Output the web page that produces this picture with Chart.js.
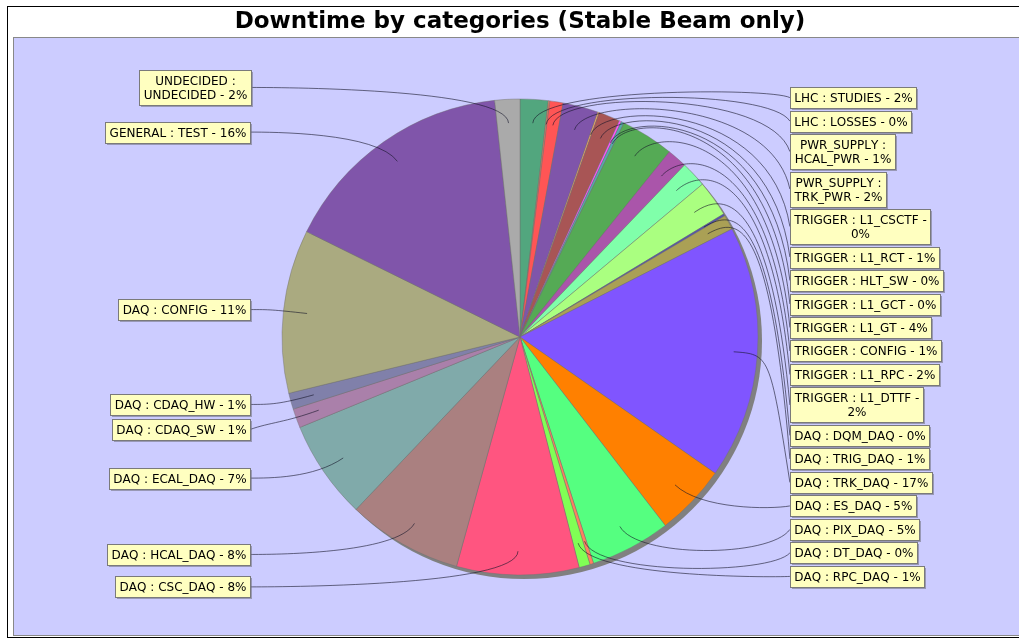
<!DOCTYPE html>
<html>
<head>
<meta charset="utf-8">
<script src="https://cdn.jsdelivr.net/npm/chart.js@4.4.0/dist/chart.umd.min.js"></script>
<style>
  html, body { margin: 0; padding: 0; background: #fff; }
  canvas { display: block; }
</style>
</head>
<body>
<canvas id="pie" width="1019" height="642"></canvas>
<script>
const chartTitle = 'Downtime by categories (Stable Beam only)';

// slices clockwise from 12 o'clock
const categories = [
  'LHC : STUDIES', 'LHC : LOSSES', 'PWR_SUPPLY : HCAL_PWR', 'PWR_SUPPLY : TRK_PWR',
  'TRIGGER : L1_CSCTF', 'TRIGGER : L1_RCT', 'TRIGGER : HLT_SW', 'TRIGGER : L1_GCT',
  'TRIGGER : L1_GT', 'TRIGGER : CONFIG', 'TRIGGER : L1_RPC', 'TRIGGER : L1_DTTF',
  'DAQ : DQM_DAQ', 'DAQ : TRIG_DAQ', 'DAQ : TRK_DAQ', 'DAQ : ES_DAQ', 'DAQ : PIX_DAQ',
  'DAQ : DT_DAQ', 'DAQ : RPC_DAQ', 'DAQ : CSC_DAQ', 'DAQ : HCAL_DAQ', 'DAQ : ECAL_DAQ',
  'DAQ : CDAQ_SW', 'DAQ : CDAQ_HW', 'DAQ : CONFIG', 'GENERAL : TEST', 'UNDECIDED : UNDECIDED'
];

// downtime share, percent
const downtime = [
  1.9, 0.1, 0.9, 2.4,
  0.1, 1.45, 0.15, 0.2,
  3.6, 1.35, 1.75, 2.45,
  0.15, 1.0, 17.2, 4.85, 5.45,
  0.25, 0.75, 8.3, 7.8, 6.7,
  1.3, 1.1, 11.1, 16.0, 1.7
];

const sliceColors = [
  '#52A67E', '#D98060', '#FF5555', '#7F55AA',
  '#FFAA66', '#A85555', '#FF55FF', '#55AAAA',
  '#55AA55', '#AA55AA', '#80FFAA', '#AAFF80',
  '#5555AA', '#AAA055', '#8055FF', '#FF8000', '#55FF80',
  '#FF8060', '#80FF55', '#FF5580', '#AA8080', '#80AAAA',
  '#AA80AA', '#8080AA', '#AAAA80', '#8055AA', '#AAAAAA'
];

const labelFont = '12px "DejaVu Sans"';
const LINE_H = 14;
const PAD_X = 4;
const PAD_Y = 3.5;
const MAX_LABEL_W = 146;
const MIN_GAP = 4;

const total = downtime.reduce((a, b) => a + b, 0);

function wrapText(ctx, text, maxW) {
  const words = text.split(' ');
  const lines = [];
  let line = '';
  words.forEach(w => {
    const test = line ? line + ' ' + w : w;
    if (line && ctx.measureText(test).width > maxW) {
      lines.push(line);
      line = w;
    } else {
      line = test;
    }
  });
  if (line) lines.push(line);
  return lines;
}

function hasOverlap(recs) {
  for (let i = 1; i < recs.length; i++) {
    if (recs[i - 1].y + recs[i - 1].h / 2 > recs[i].y - recs[i].h / 2) return true;
  }
  return false;
}

// same idea as the jfreechart label distributor
function distribute(recs, minY, maxY) {
  recs.sort((a, b) => a.baseY - b.baseY);
  recs.forEach(r => { r.y = r.baseY; });
  if (hasOverlap(recs)) {
    for (let i = 1; i < recs.length; i++) {
      const p = recs[i - 1], r = recs[i];
      if (r.y - r.h / 2 < p.y + p.h / 2) {
        r.y = Math.min(maxY - r.h / 2, p.y + p.h / 2 + MIN_GAP + r.h / 2);
      }
    }
  }
  if (hasOverlap(recs)) {
    for (let i = recs.length - 2; i >= 0; i--) {
      const n = recs[i + 1], r = recs[i];
      if (r.y + r.h / 2 > n.y - n.h / 2) {
        r.y = Math.max(minY + r.h / 2, n.y - n.h / 2 - MIN_GAP - r.h / 2);
      }
    }
  }
  if (hasOverlap(recs)) {
    const sum = recs.reduce((s, r) => s + r.h, 0);
    const gap = recs.length > 1 ? (maxY - minY - sum) / (recs.length - 1) : 0;
    let y = minY;
    recs.forEach(r => { r.y = y + r.h / 2; y += r.h + gap; });
  }
}

const framePlugin = {
  id: 'frame',
  beforeDraw(chart) {
    const ctx = chart.ctx;
    ctx.save();
    ctx.fillStyle = '#fff';
    ctx.fillRect(0, 0, chart.width, chart.height);
    // plot background
    ctx.fillStyle = '#CCCCFF';
    ctx.fillRect(13, 38, chart.width, 598);
    ctx.strokeStyle = '#888';
    ctx.lineWidth = 1;
    ctx.strokeRect(13.5, 37.5, chart.width + 10, 598);
    // outer border
    ctx.strokeStyle = '#000';
    ctx.strokeRect(7.5, 6.5, chart.width + 20, 631);
    ctx.fillStyle = '#000';
    ctx.font = 'bold 23px "DejaVu Sans"';
    ctx.textAlign = 'center';
    ctx.textBaseline = 'alphabetic';
    ctx.fillText(chartTitle, 520, 28);
    ctx.restore();
  }
};

const shadowPlugin = {
  id: 'pieShadow',
  beforeDatasetsDraw(chart) {
    const arc = chart.getDatasetMeta(0).data[0];
    if (!arc) return;
    const ctx = chart.ctx;
    ctx.save();
    ctx.fillStyle = '#808080';
    ctx.beginPath();
    ctx.arc(arc.x + 4, arc.y + 4, arc.outerRadius, 0, Math.PI * 2);
    ctx.fill();
    ctx.restore();
  }
};

const labelPlugin = {
  id: 'pieLabels',
  afterDatasetsDraw(chart) {
    const ctx = chart.ctx;
    const arcs = chart.getDatasetMeta(0).data;
    const cx = arcs[0].x, cy = arcs[0].y, r = arcs[0].outerRadius;
    const linkR = r * 1.05;
    const labelGap = 20;
    ctx.save();
    ctx.font = labelFont;
    if ('fontKerning' in ctx) ctx.fontKerning = 'none';
    const left = [], right = [];
    arcs.forEach((arc, i) => {
      const mid = (arc.startAngle + arc.endAngle) / 2;
      const pct = Math.round(downtime[i] / total * 100);
      const lines = wrapText(ctx, categories[i] + ' - ' + pct + '%', MAX_LABEL_W);
      const w = Math.max(...lines.map(l => ctx.measureText(l).width)) + PAD_X * 2;
      const h = lines.length * LINE_H + PAD_Y * 2;
      const rec = {
        lines, w, h,
        baseY: cy + Math.sin(mid) * linkR,
        linkX: cx + Math.cos(mid) * r * 0.9,
        linkY: cy + Math.sin(mid) * r * 0.9,
        elbowX: cx + Math.cos(mid) * linkR,
        elbowY: cy + Math.sin(mid) * linkR
      };
      (Math.cos(mid) >= 0 ? right : left).push(rec);
    });
    distribute(left, cy - linkR, cy + linkR);
    distribute(right, cy - linkR, cy + linkR);

    const drawSide = (recs, isRight) => {
      const anchorX = isRight ? cx + linkR : cx - linkR;
      const targetX = isRight ? anchorX + labelGap : anchorX - labelGap;
      ctx.strokeStyle = 'rgba(20,20,40,0.75)';
      ctx.lineWidth = 0.8;
      recs.forEach(rec => {
        ctx.beginPath();
        ctx.moveTo(targetX, rec.y);
        ctx.bezierCurveTo(anchorX, rec.elbowY, rec.elbowX, rec.elbowY, rec.linkX, rec.linkY);
        ctx.stroke();
      });
      recs.forEach(rec => {
        const bx = Math.round(isRight ? targetX : targetX - rec.w);
        const by = Math.round(rec.y - rec.h / 2);
        const bw = Math.round(rec.w), bh = Math.round(rec.h);
        ctx.fillStyle = 'rgba(110,110,120,0.55)';
        ctx.fillRect(bx + 2, by + 2, bw, bh);
        ctx.fillStyle = '#FFFFC0';
        ctx.fillRect(bx, by, bw, bh);
        ctx.strokeStyle = '#7a7a7a';
        ctx.lineWidth = 1;
        ctx.strokeRect(bx + 0.5, by + 0.5, bw, bh);
        ctx.fillStyle = '#000';
        ctx.textAlign = 'center';
        ctx.textBaseline = 'middle';
        rec.lines.forEach((l, j) => {
          ctx.fillText(l, bx + bw / 2 + 0.5, by + PAD_Y + LINE_H * (j + 0.5) + 1);
        });
      });
    };
    drawSide(left, false);
    drawSide(right, true);
    ctx.restore();
  }
};

new Chart(document.getElementById('pie'), {
  type: 'pie',
  data: {
    labels: categories,
    datasets: [{
      data: downtime,
      backgroundColor: sliceColors,
      borderColor: 'rgba(110,110,110,0.7)',
      borderWidth: 0.6,
      radius: 238,
      offset: 0,
      hoverOffset: 0
    }]
  },
  options: {
    responsive: false,
    devicePixelRatio: 1,
    animation: false,
    layout: { padding: { left: 280, right: 259, top: 97, bottom: 65 } },
    plugins: {
      legend: { display: false },
      title: { display: false },
      tooltip: { enabled: false }
    },
    events: []
  },
  plugins: [framePlugin, shadowPlugin, labelPlugin]
});
</script>
</body>
</html>
